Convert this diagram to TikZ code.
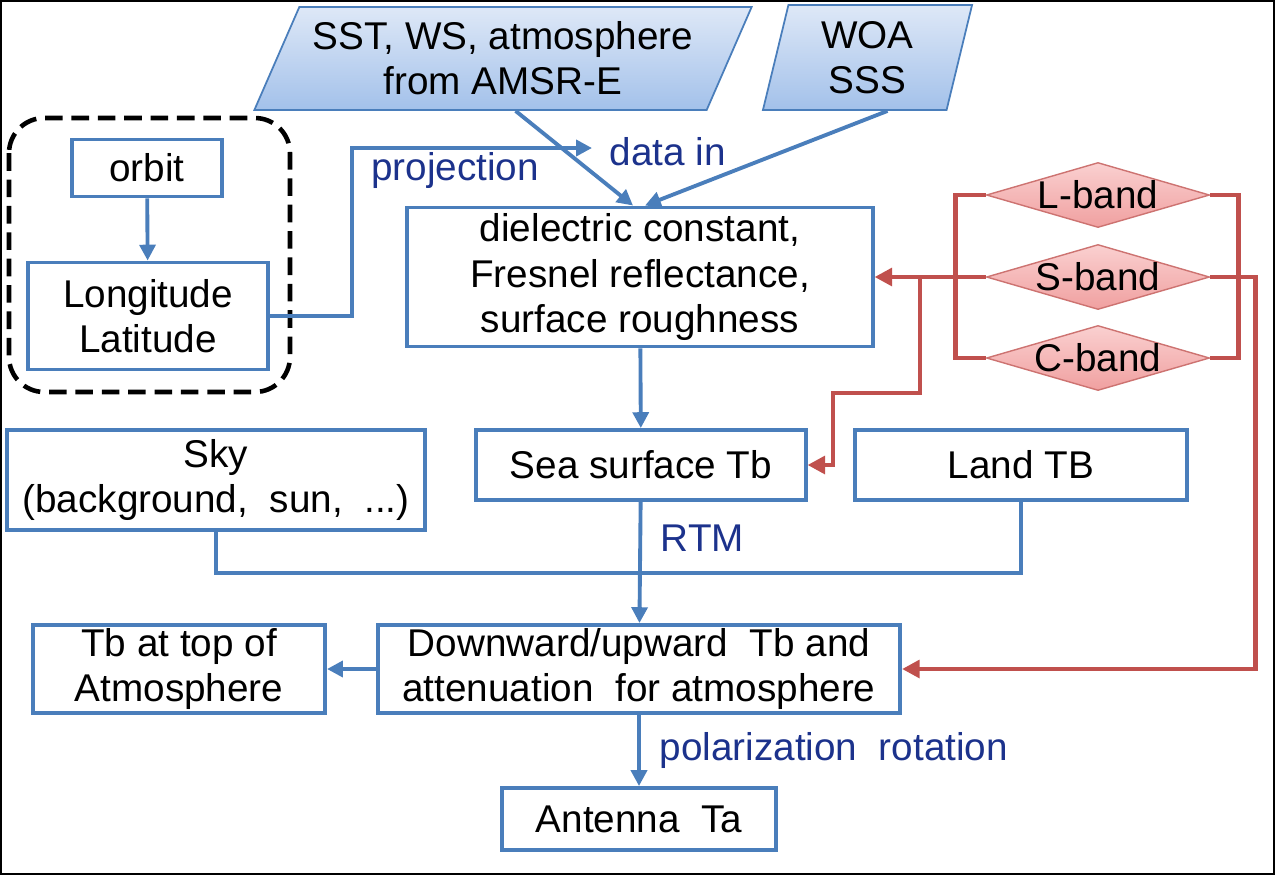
\documentclass[tikz,border=0pt]{standalone}
\usepackage{fontspec}
\setmainfont{Liberation Sans}
\usepackage{tikz}
\usetikzlibrary{arrows.meta,positioning,shapes.geometric,calc}

\definecolor{boxblue}{RGB}{74,126,187}
\definecolor{linered}{RGB}{192,80,77}
\definecolor{labelblue}{RGB}{28,50,140}
\definecolor{paratop}{RGB}{222,232,247}
\definecolor{parabot}{RGB}{163,193,234}
\definecolor{bandtop}{RGB}{250,208,208}
\definecolor{bandbot}{RGB}{240,160,160}

\tikzset{
  box/.style={draw=boxblue, line width=1.1pt, fill=white, align=center, inner sep=0pt},
  datain/.style={trapezium, trapezium stretches body=true, draw=boxblue, line width=0.5pt,
    top color=paratop, bottom color=parabot, align=center, inner sep=0pt},
  band/.style={diamond, draw=linered!80, line width=0.4pt, top color=bandtop, bottom color=bandbot,
    inner sep=0pt, minimum width=2.23cm, minimum height=0.65cm},
  flow/.style={draw=boxblue, line width=1.1pt, -{Triangle[length=4.5pt,width=4.5pt]}},
  line/.style={draw=boxblue, line width=1.1pt},
  rflow/.style={draw=linered, line width=1.4pt, -{Triangle[length=5pt,width=5pt]}},
  rline/.style={draw=linered, line width=1.4pt},
  lab/.style={text=labelblue}
}

\begin{document}
\begin{tikzpicture}[x=0.01cm,y=-0.01cm,font=\fontsize{11}{12.8}\selectfont]
\useasboundingbox (0,0) rectangle (1275,875);
\draw[line width=0.6pt] (1,1) rectangle (1274,874);

% inputs
\node[datain, trapezium left angle=58.5, trapezium right angle=121.5,
  minimum width=4.97cm, minimum height=1.03cm] (sst) at (503,58.5) {SST, WS, atmosphere\\from AMSR-E};
\node[datain, trapezium left angle=70.6, trapezium right angle=109.4,
  minimum width=2.09cm, minimum height=1.05cm] (woa) at (867.5,57.5) {WOA\\SSS};

% geometry
\draw[line width=1.3pt, dashed, dash pattern=on 5pt off 2.5pt, rounded corners=10pt] (9,118) rectangle (290,392);
\node[box, minimum width=1.5cm, minimum height=0.57cm] (orbit) at (147,168) {orbit};
\node[box, minimum width=2.4cm, minimum height=1.07cm] (lonlat) at (148,316) {Longitude\\Latitude};

% main chain
\node[box, minimum width=4.65cm, minimum height=1.39cm] (diel) at (640,277)
  {dielectric constant,\\Fresnel reflectance,\\surface roughness};
\node[box, minimum width=4.17cm, minimum height=1.0cm] (sky) at (216,480) {Sky\\(background,\ \ sun,\ \ ...)};
\node[box, minimum width=3.29cm, minimum height=0.7cm] (sea) at (641,465) {Sea surface Tb};
\node[box, minimum width=3.32cm, minimum height=0.7cm] (land) at (1021,465) {Land TB};
\node[box, minimum width=5.22cm, minimum height=0.88cm] (down) at (639,669)
  {Downward/upward\ \ Tb and\\attenuation\ \ for atmosphere};
\node[box, minimum width=2.92cm, minimum height=0.88cm] (toa) at (179,669) {Tb at top of\\Atmosphere};
\node[box, minimum width=2.73cm, minimum height=0.62cm] (ant) at (639,819) {Antenna\ \ Ta};

% bands
\node[band, label={center:L-band}] (lb) at (1098,195) {};
\node[band, label={center:S-band}] (sb) at (1098,277) {};
\node[band, label={center:C-band}] (cb) at (1098,358) {};

% blue connectors
\draw[flow] (orbit) -- (lonlat);
\coordinate (proj) at (352,148);
\coordinate (projend) at (592,148);
\draw[flow] (lonlat.east) -| (proj) -- (projend);
\node[lab] at (455,170) {projection};
\node[lab] at (668,152) {data in};
\draw[flow] ($(sst.south west)!0.62!(sst.south east)$) -- ($(diel.north)+(-7,0)$);
\draw[flow] ($(woa.south)+(20,0)$) -- ($(diel.north)+(5,0)$);
\draw[flow] (diel) -- (sea);
\coordinate (join) at (641,573);
\draw[line] (sky.south) |- (join) -| (land.south);
\draw[flow] (sea) -- (down) node[lab, pos=0.3, right=2pt] {RTM};
\draw[flow] (down) -- (toa);
\draw[flow] (down) -- (ant) node[lab, midway, right=2pt] {polarization\ \ rotation};

% red connectors
\draw[rline] (lb.west) -- ++(-30,0) |- (cb.west);
\draw[rline] (lb.east) -- ++(28,0) |- (cb.east);
\draw[rflow] (sb.west) -- (diel.east);
\coordinate (sbr) at (920,277);
\draw[rflow] (sbr) |- (833,393) |- (sea.east);
\draw[rflow] (sb.east) -- ++(45,0) |- (down.east);
\end{tikzpicture}
\end{document}
